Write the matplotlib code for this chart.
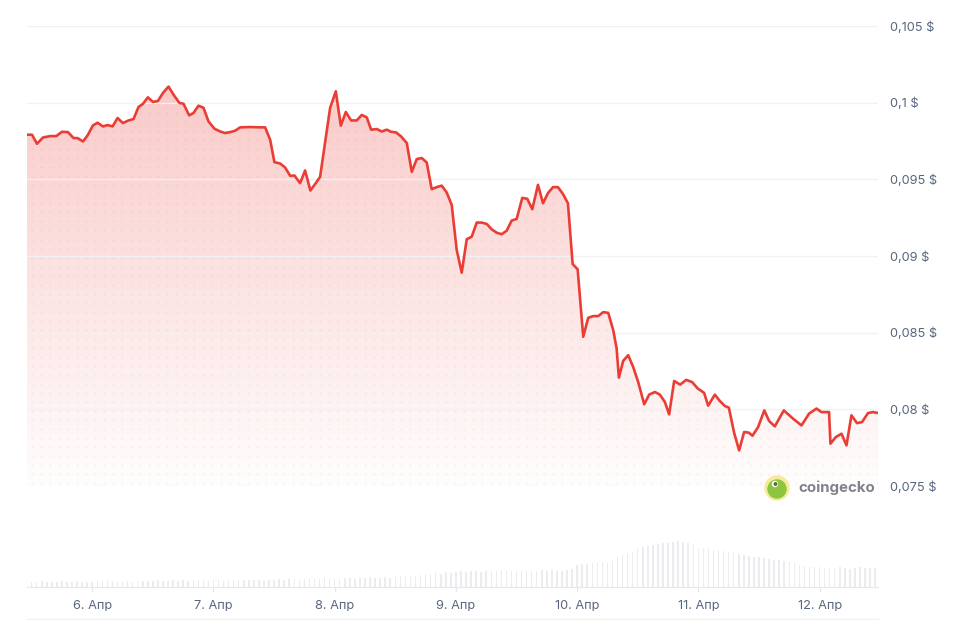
import numpy as np
import matplotlib
matplotlib.use("Agg")
import matplotlib.pyplot as plt
from matplotlib.patches import Ellipse
from matplotlib.lines import Line2D
from matplotlib.colors import to_rgb

plt.rcParams['font.family'] = ['Inter', 'DejaVu Sans']

# price series, x = hours since 6. Апр 00:00
hours = [-12.92, -11.93, -10.94, -9.75, -8.31, -7.12, -6.00, -4.81, -3.70, -2.91,
         -1.84, -0.93, 0.14, 1.05, 2.12, 3.03, 4.02, 5.01, 6.07, 7.18,
         8.17, 9.16, 10.03, 11.02, 12.01, 13.00, 13.99, 15.10, 16.09, 17.27,
         18.06, 19.19, 20.04, 21.03, 22.02, 23.01, 24.20, 25.33, 26.32, 27.30,
         28.29, 29.28, 31.26, 33.24, 34.23, 35.22, 36.07, 37.20, 38.19, 39.18,
         40.03, 41.15, 42.14, 43.19, 44.12, 45.11, 47.09, 48.22, 49.21, 50.20,
         51.25, 52.37, 53.36, 54.35, 55.21, 56.33, 57.32, 58.31, 59.16, 60.15,
         61.14, 62.27, 63.26, 64.25, 65.23, 66.22, 67.21, 68.20, 69.19, 70.18,
         71.17, 72.16, 73.15, 74.14, 75.13, 76.12, 77.11, 78.10, 79.09, 80.07,
         81.06, 82.05, 83.04, 84.03, 85.14, 86.13, 87.12, 88.25, 89.24, 90.23,
         91.22, 92.20, 93.19, 94.18, 95.11, 96.10, 97.21, 98.20, 99.19, 100.18,
         101.17, 102.16, 103.15, 103.82, 104.27, 105.12, 106.11, 107.10, 108.09, 109.28,
         110.27, 111.40, 112.38, 113.37, 114.22, 115.21, 116.40, 117.59, 118.77, 119.84,
         121.15, 121.94, 123.27, 124.26, 125.24, 126.04, 127.08, 128.07, 129.06, 129.99,
         130.72, 131.83, 133.06, 134.01, 135.14, 136.92, 138.76, 140.42, 141.92, 143.39,
         144.38, 145.88, 146.16, 147.21, 148.34, 149.33, 150.31, 151.42, 152.41, 153.60,
         154.58, 155.57]
price = [0.09791, 0.09791, 0.09732, 0.09773, 0.09782, 0.09782, 0.09810, 0.09808, 0.09769, 0.09769,
         0.09747, 0.09786, 0.09852, 0.09869, 0.09845, 0.09854, 0.09845, 0.09900, 0.09867, 0.09884,
         0.09893, 0.09972, 0.09992, 0.10035, 0.10005, 0.10011, 0.10063, 0.10105, 0.10052, 0.09998,
         0.09993, 0.09917, 0.09933, 0.09980, 0.09967, 0.09878, 0.09830, 0.09812, 0.09802, 0.09808,
         0.09817, 0.09839, 0.09841, 0.09839, 0.09839, 0.09758, 0.09612, 0.09603, 0.09577, 0.09523,
         0.09525, 0.09475, 0.09558, 0.09427, 0.09469, 0.09516, 0.09965, 0.10074, 0.09850, 0.09939,
         0.09884, 0.09884, 0.09920, 0.09904, 0.09824, 0.09828, 0.09812, 0.09824, 0.09810, 0.09806,
         0.09780, 0.09737, 0.09549, 0.09632, 0.09639, 0.09610, 0.09436, 0.09449, 0.09459, 0.09414,
         0.09333, 0.09039, 0.08891, 0.09109, 0.09126, 0.09218, 0.09218, 0.09209, 0.09174, 0.09152,
         0.09142, 0.09165, 0.09231, 0.09242, 0.09379, 0.09373, 0.09305, 0.09464, 0.09344, 0.09410,
         0.09449, 0.09449, 0.09405, 0.09344, 0.08948, 0.08913, 0.08473, 0.08597, 0.08608, 0.08608,
         0.08634, 0.08629, 0.08516, 0.08397, 0.08207, 0.08316, 0.08353, 0.08276, 0.08178, 0.08033,
         0.08096, 0.08113, 0.08096, 0.08048, 0.07967, 0.08185, 0.08161, 0.08192, 0.08178, 0.08137,
         0.08107, 0.08024, 0.08096, 0.08054, 0.08022, 0.08011, 0.07848, 0.07732, 0.07852, 0.07848,
         0.07828, 0.07884, 0.07993, 0.07924, 0.07889, 0.07993, 0.07939, 0.07895, 0.07972, 0.08005,
         0.07982, 0.07982, 0.07776, 0.07819, 0.07841, 0.07765, 0.07961, 0.07910, 0.07917, 0.07976,
         0.07982, 0.07976]

# hourly volume bars (relative)
vol_hours = list(range(-12, 156))
volume = [5, 5, 6, 5, 5, 5, 6, 5, 5, 6, 5, 5,
          5, 6, 5, 6, 6, 5, 6, 6, 5, 6, 6, 6,
          6, 7, 6, 6, 7, 6, 7, 6, 6, 7, 7, 6,
          7, 7, 6, 7, 7, 6, 7, 7, 7, 7, 6, 7,
          7, 8, 7, 8, 8, 7, 8, 8, 8, 8, 9, 8,
          9, 8, 9, 9, 8, 9, 9, 10, 9, 9, 10, 9,
          10, 11, 10, 12, 11, 12, 13, 12, 14, 13, 15, 14,
          15, 16, 15, 16, 16, 15, 16, 16, 16, 17, 16, 16,
          16, 16, 17, 16, 16, 17, 16, 17, 16, 16, 17, 18,
          22, 23, 23, 24, 24, 25, 24, 26, 30, 32, 33, 35,
          38, 40, 41, 42, 43, 44, 44, 45, 46, 45, 44, 43,
          38, 39, 38, 37, 36, 36, 35, 34, 33, 32, 31, 30,
          30, 29, 28, 27, 27, 26, 25, 24, 22, 21, 20, 20,
          20, 19, 20, 19, 20, 19, 18, 19, 20, 19, 19, 19]

day_ticks = [0, 24, 48, 72, 96, 120, 144]
day_labels = ["6. Апр", "7. Апр", "8. Апр", "9. Апр", "10. Апр", "11. Апр", "12. Апр"]
price_ticks = [0.075, 0.08, 0.085, 0.09, 0.095, 0.1, 0.105]
price_labels = ["0,075 $", "0,08 $", "0,085 $", "0,09 $", "0,095 $", "0,1 $", "0,105 $"]

RED = "#ea3d36"
TXT = "#58667e"
GRID = "#eff1f4"

W, H = 960, 620
fig = plt.figure(figsize=(9.6, 6.2), dpi=100)
fig.patch.set_facecolor("white")

x0, x1 = hours[0], hours[-1]
ax = fig.add_axes([27 / W, (H - 486) / H, 851 / W, 460 / H])
axv = fig.add_axes([27 / W, (H - 587) / H, 851 / W, 52 / H])

# price area: gradient fill clipped to the area under the line
poly = ax.fill_between(hours, price, price_ticks[0], color="none", lw=0)
clip = poly.get_paths()[0]
grad = np.zeros((256, 1, 4))
grad[..., :3] = to_rgb(RED)
grad[..., 3] = np.linspace(0.01, 0.27, 256)[:, None]
im = ax.imshow(grad, extent=[x0, x1, price_ticks[0], max(price)], origin="lower",
               aspect="auto", zorder=1, interpolation="bilinear")
im.set_clip_path(clip, ax.transData)

# faint dot texture inside the area (decoration, about every 9 px)
gx, gy = np.meshgrid(np.arange(x0 + 1.0, x1, 1.78), np.arange(0.0752, 0.1012, 0.000588))
dots = ax.scatter(gx.ravel(), gy.ravel(), s=2.2, color=RED, alpha=0.07, lw=0, zorder=2)
dots.set_clip_path(clip, ax.transData)

ax.plot(hours, price, color=RED, lw=1.9, solid_joinstyle="round", zorder=3)

ax.set_xlim(x0, x1)
ax.set_ylim(price_ticks[0], price_ticks[-1])
ax.set_yticks(price_ticks)
ax.set_yticklabels(price_labels)
ax.yaxis.tick_right()
ax.tick_params(axis="y", length=0, pad=8.6, labelsize=9.2, labelcolor=TXT)
ax.set_xticks([])
ax.grid(axis="y", color=GRID, lw=1, zorder=0)
for s in ax.spines.values():
    s.set_visible(False)
ax.set_facecolor("none")

# volume
axv.bar(vol_hours, volume, width=0.3, color="#eaecf0", lw=0)
axv.set_xlim(x0, x1)
axv.set_ylim(0, 52)
axv.set_yticks([])
axv.set_xticks(day_ticks)
axv.set_xticklabels(day_labels)
axv.tick_params(axis="x", length=3.6, width=0.8, color="#e3e6eb", pad=5.5,
                labelsize=9.2, labelcolor=TXT)
for s in ["top", "left", "right"]:
    axv.spines[s].set_visible(False)
axv.spines["bottom"].set_color("#e6e8ec")
axv.set_facecolor("none")

# bottom border line
fig.add_artist(Line2D([27 / W, 878 / W], [1 - 619 / H] * 2, color="#eef0f3", lw=1,
                      transform=fig.transFigure))

# coingecko watermark
cx, cy = 777 / W, 1 - 488 / H
fig.add_artist(Ellipse((cx, cy), 24 / W, 24 / H, color="#f8ea9a", transform=fig.transFigure, zorder=5))
fig.add_artist(Ellipse((cx, cy - 1 / H), 18 / W, 18 / H, color="#8cc63f", transform=fig.transFigure, zorder=6))
fig.add_artist(Ellipse((cx - 2 / W, cy + 4 / H), 5 / W, 5 / H, color="white", transform=fig.transFigure, zorder=7))
fig.add_artist(Ellipse((cx - 1.5 / W, cy + 4 / H), 2.5 / W, 2.5 / H, color="#5a6a3a", transform=fig.transFigure, zorder=8))
fig.text(798 / W, cy, "coingecko", fontsize=10.8, fontweight="bold", color="#7f828a",
         va="center", ha="left")

fig.savefig("out.png", dpi=100, facecolor="white")
